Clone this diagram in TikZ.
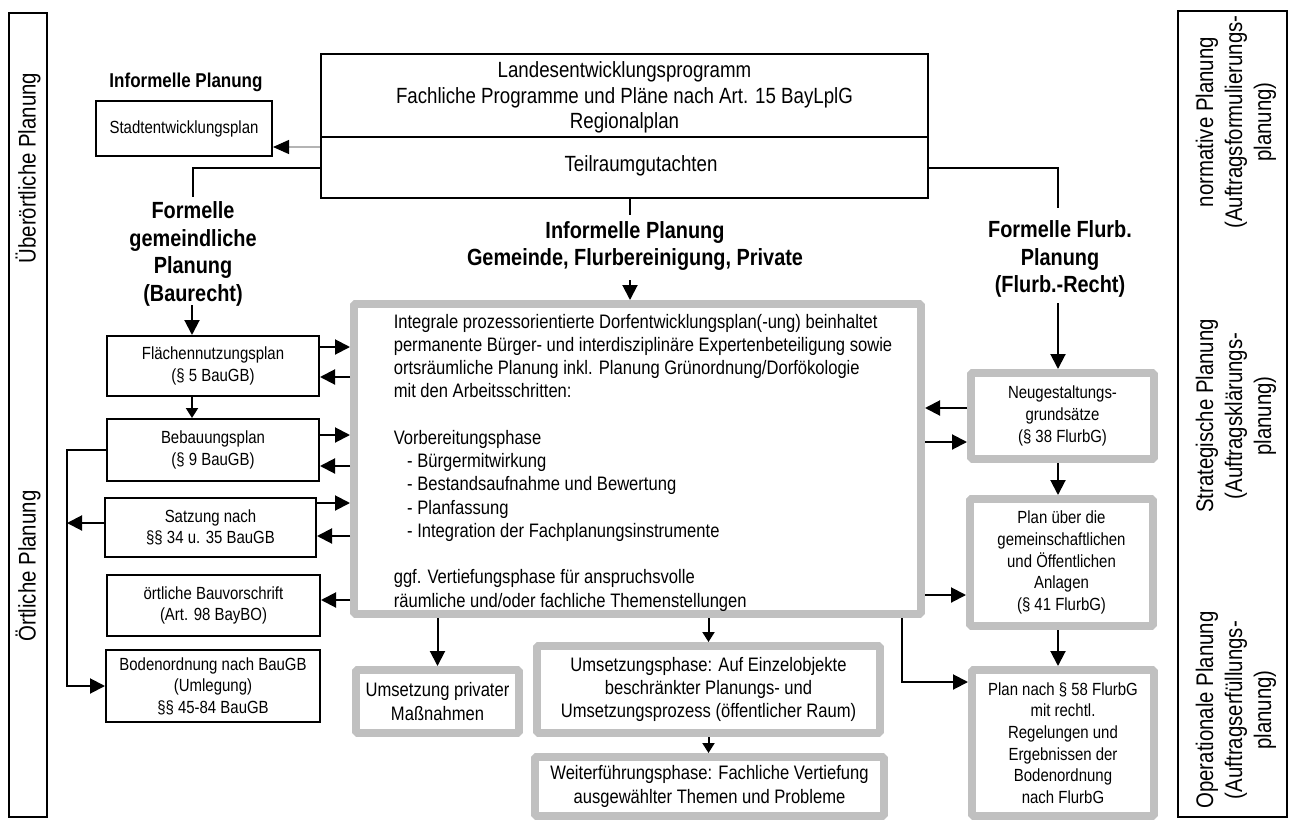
\documentclass[tikz,border=0pt]{standalone}
\usepackage{fontspec}
\setmainfont[FakeStretch=0.85]{Liberation Sans}
\usetikzlibrary{arrows.meta}
\definecolor{framegray}{RGB}{192,192,192}
\definecolor{linegray}{RGB}{180,180,180}

\begin{document}
\begin{tikzpicture}[x=1pt,y=-1pt,
  every node/.style={inner sep=2pt},
  smallfont/.style={font=\fontsize{17.6}{21.6}\selectfont},
  bodyfont/.style={font=\fontsize{19.5}{23.25}\selectfont},
  blackbox/.style={draw=black,line width=2pt,fill=white,align=center,smallfont},
  plainbox/.style={draw=black,line width=2pt,fill=white},
  graybox/.style={draw=framegray,line width=8pt,line join=bevel,fill=white,align=center},
  sidelbl/.style={rotate=90,align=center,font=\fontsize{24}{29}\selectfont},
  hdsmall/.style={font=\bfseries\fontsize{20}{24}\selectfont},
  hdbig/.style={align=center,font=\bfseries\fontsize{23.4}{27.6}\selectfont},
  conn/.style={line width=2pt},
  arr/.style={line width=2pt,-{Triangle[length=15pt,width=15pt]}},
  arrs/.style={line width=2pt,-{Triangle[length=10pt,width=12pt]}},
  grayarr/.style={draw=linegray,line width=1.2pt,-{Triangle[length=16pt,width=14pt,color=black]}}
]
\useasboundingbox (0,0) rectangle (1291,822);
\fill[white] (0,0) rectangle (1291,822);

% side columns
\node[plainbox,minimum width=38pt,minimum height=804pt] (leftcol) at (28,415) {};
\node[sidelbl] (ueber) at (28,168) {Überörtliche Planung};
\node[sidelbl] (oertl) at (28,566) {Örtliche Planung};
\node[plainbox,minimum width=109pt,minimum height=806pt] (rightcol) at (1232.5,414) {};
\node[sidelbl] (normativ) at (1236,122) {normative Planung\\(Auftragsformulierungs-\\planung)};
\node[sidelbl] (strateg) at (1236,416) {Strategische Planung\\(Auftragsklärungs-\\planung)};
\node[sidelbl] (operat) at (1236,710) {Operationale Planung\\(Auftragserfüllungs-\\planung)};

% superordinate planning
\node[plainbox,minimum width=607pt,minimum height=83pt] (lande) at (624.5,95.5) {};
\node[align=center,font=\fontsize{22}{25.5}\selectfont] (landetext) at (624.5,97.5)
  {Landesentwicklungsprogramm\\Fachliche Programme und Pläne nach Art. 15 BayLplG\\Regionalplan};
\node[plainbox,minimum width=607pt,minimum height=61pt] (teil) at (624.5,167.5) {};
\node[font=\fontsize{22}{25.5}\selectfont] (teiltext) at (641,166) {Teilraumgutachten};

% informal municipal planning
\node[hdsmall] (infl) at (186,82) {Informelle Planung};
\node[blackbox,minimum width=176pt,minimum height=55pt] (stadt) at (184,128.5) {Stadtentwicklungsplan};

% headings
\node[hdbig] (fgp) at (193,254) {Formelle\\gemeindliche\\Planung\\(Baurecht)};
\node[hdbig] (infm) at (635,246) {Informelle Planung\\Gemeinde, Flurbereinigung, Private};
\node[hdbig] (ffp) at (1060,259) {Formelle Flurb.\\Planung\\(Flurb.-Recht)};

% building law instruments
\node[blackbox,minimum width=212pt,minimum height=60pt] (fnp) at (213,366) {Flächennutzungsplan\\(§ 5 BauGB)};
\node[blackbox,minimum width=212pt,minimum height=62pt] (bplan) at (213,450) {Bebauungsplan\\(§ 9 BauGB)};
\node[blackbox,minimum width=211pt,minimum height=59pt] (satz) at (210.5,527.5) {Satzung nach\\§§ 34 u. 35 BauGB};
\node[blackbox,minimum width=213pt,minimum height=61pt] (bauv) at (213.5,605.5) {örtliche Bauvorschrift\\(Art. 98 BayBO)};
\node[blackbox,minimum width=214pt,minimum height=72pt] (boden) at (213,686) {Bodenordnung nach BauGB\\(Umlegung)\\§§ 45-84 BauGB};

% village development plan
\node[graybox,minimum width=567pt,minimum height=310pt] (main) at (637.5,459) {};
\node[bodyfont,align=left,anchor=west,inner sep=0pt] (maintxt) at (393.6,462.5)
  {Integrale prozessorientierte Dorfentwicklungsplan(-ung) beinhaltet\\
   permanente Bürger- und interdisziplinäre Expertenbeteiligung sowie\\
   ortsräumliche Planung inkl. Planung Grünordnung/Dorfökologie\\
   mit den Arbeitsschritten:\\[23.25pt]
   Vorbereitungsphase\\
   \hspace*{13.4pt}- Bürgermitwirkung\\
   \hspace*{13.4pt}- Bestandsaufnahme und Bewertung\\
   \hspace*{13.4pt}- Planfassung\\
   \hspace*{13.4pt}- Integration der Fachplanungsinstrumente\\[23.25pt]
   ggf. Vertiefungsphase für anspruchsvolle\\
   räumliche und/oder fachliche Themenstellungen};

% implementation phases
\node[graybox,bodyfont,minimum width=163pt,minimum height=63pt] (privat) at (437.5,701.5) {Umsetzung privater\\Maßnahmen};
\node[graybox,bodyfont,minimum width=343pt,minimum height=87pt] (umsetz) at (708.5,689.5)
  {Umsetzungsphase: Auf Einzelobjekte\\beschränkter Planungs- und\\Umsetzungsprozess (öffentlicher Raum)};
\node[graybox,bodyfont,minimum width=349pt,minimum height=59pt] (weiter) at (709.5,786.5)
  {Weiterführungsphase: Fachliche Vertiefung\\ausgewählter Themen und Probleme};

% land consolidation instruments
\node[graybox,smallfont,minimum width=183pt,minimum height=86pt] (neu) at (1062.5,416) {Neugestaltungs-\\grundsätze\\(§ 38 FlurbG)};
\node[graybox,smallfont,minimum width=183pt,minimum height=127pt] (planueber) at (1061.5,562.5)
  {Plan über die\\gemeinschaftlichen\\und Öffentlichen\\Anlagen\\(§ 41 FlurbG)};
\node[graybox,smallfont,minimum width=182pt,minimum height=146pt] (plannach) at (1063,743)
  {Plan nach § 58 FlurbG\\mit rechtl.\\Regelungen und\\Ergebnissen der\\Bodenordnung\\nach FlurbG};

% connector ends below the superordinate box
\coordinate (lfoot) at (193,197);
\coordinate (rfoot) at (1058,208);
\coordinate (cfoot) at (630,215);
\coordinate (ltop) at (192,305);
\coordinate (ctop) at (630,280);
\coordinate (rtop) at (1058,303);
\coordinate (busx) at (67,0);

\draw[grayarr] (teil.west |- 0,147) -- (stadt.east |- 0,147);
\draw[conn] (teil.west) -| (lfoot);
\draw[conn] (teil.east) -| (rfoot);
\draw[conn] (teil.south -| cfoot) -- (cfoot);

\draw[arr] (ctop) -- (ctop |- main.north);
\draw[arr] (ltop) -- (ltop |- fnp.north);
\draw[arrs] (fnp.south -| ltop) -- (bplan.north -| ltop);
\draw[arr] (rtop) -- (rtop |- neu.north);
\draw[arr] (neu.south -| rtop) -- (planueber.north -| rtop);
\draw[arr] (planueber.south -| rtop) -- (plannach.north -| rtop);

% left distribution line
\draw[arr] (bplan.west) -- (bplan.west -| busx) |- (boden.west);
\draw[arr] (satz.west |- 0,523) -- (busx |- 0,523);

% exchange with the village development plan, left
\draw[arr] (fnp.east |- 0,347) -- (main.west |- 0,347);
\draw[arr] (main.west |- 0,377) -- (fnp.east |- 0,377);
\draw[arr] (bplan.east |- 0,435) -- (main.west |- 0,435);
\draw[arr] (main.west |- 0,466) -- (bplan.east |- 0,466);
\draw[arr] (satz.east |- 0,503) -- (main.west |- 0,503);
\draw[arr] (main.west |- 0,536) -- (satz.east |- 0,536);
\draw[arr] (main.west |- 0,600) -- (bauv.east |- 0,600);

% exchange with the village development plan, right
\draw[arr] (neu.west |- 0,408) -- (main.east |- 0,408);
\draw[arr] (main.east |- 0,442) -- (neu.west |- 0,442);
\draw[arr] (main.east |- 0,595) -- (planueber.west |- 0,595);
\draw[arr] (main.south -| 902,0) |- (plannach.west |- 0,682);

% downward to implementation
\draw[arr] (main.south -| privat.north) -- (privat.north);
\draw[arrs] (main.south -| umsetz.north) -- (umsetz.north);
\draw[arrs] (umsetz.south) -- (umsetz.south |- weiter.north);
\end{tikzpicture}
\end{document}
